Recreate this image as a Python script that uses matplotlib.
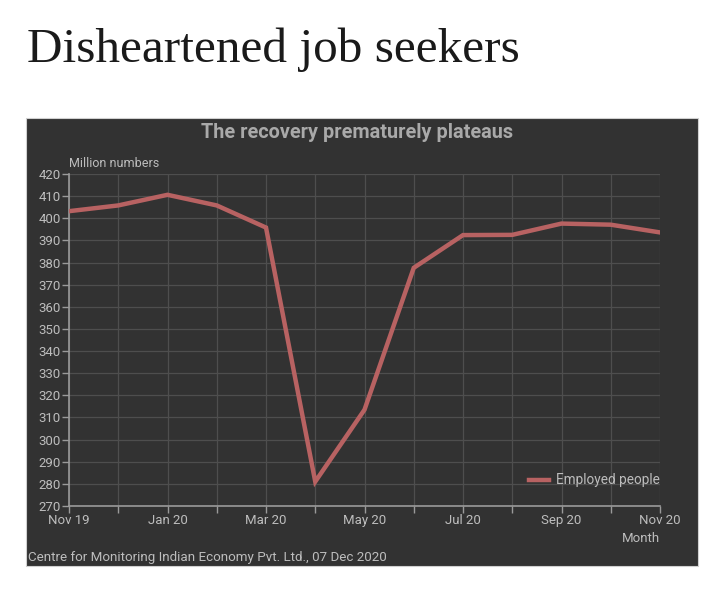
import matplotlib.pyplot as plt
from matplotlib.patches import Rectangle

# Data (million employed people, monthly)
months = ["Nov 19", "Dec 19", "Jan 20", "Feb 20", "Mar 20", "Apr 20", "May 20",
          "Jun 20", "Jul 20", "Aug 20", "Sep 20", "Oct 20", "Nov 20"]
employed = [403.2, 405.8, 410.6, 405.8, 395.8, 281.0, 313.5,
            377.6, 392.4, 392.5, 397.6, 397.1, 393.6]
tick_labels = ["Nov 19", "", "Jan 20", "", "Mar 20", "", "May 20",
               "", "Jul 20", "", "Sep 20", "", "Nov 20"]
y_ticks = list(range(270, 421, 10))

W, H = 720, 596
BG = "#323232"
TXT = "#bdbdbd"
GRID = "#4e4e4e"
LINE = "#b86262"

plt.rcParams["font.family"] = ["Roboto", "DejaVu Sans"]

fig = plt.figure(figsize=(W / 100, H / 100), dpi=100)
fig.patch.set_facecolor("white")

# dark panel behind the chart
fig.add_artist(Rectangle((26 / W, 1 - 566 / H), 672 / W, 448 / H,
                         transform=fig.transFigure, facecolor=BG,
                         edgecolor="#d0d0d0", linewidth=0.8, zorder=0))

fig.text(27 / W, 1 - 50 / H, "Disheartened job seekers", family="Liberation Serif",
         fontsize=35.5, color="#1a1a1a", va="center", ha="left")

ax = fig.add_axes([69 / W, 1 - 506 / H, 591 / W, 332 / H])
ax.set_facecolor(BG)
x = range(len(months))
ax.plot(x, employed, color=LINE, linewidth=3.2, solid_joinstyle="miter",
        label="Employed people", zorder=3)

ax.set_xlim(0, len(months) - 1)
ax.set_ylim(270, 420)
ax.set_xticks(list(x))
ax.set_xticklabels(tick_labels)
ax.set_yticks(y_ticks)
ax.grid(True, color=GRID, linewidth=0.9)
ax.tick_params(colors=TXT, labelsize=9.5, length=5, width=1, direction="out",
               pad=1)
ax.tick_params(axis="x", colors="#9a9a9a", labelcolor=TXT)
ax.tick_params(axis="y", colors="#9a9a9a", labelcolor=TXT)
for s in ["top", "right"]:
    ax.spines[s].set_visible(False)
for s in ["left", "bottom"]:
    ax.spines[s].set_color("#9a9a9a")
    ax.spines[s].set_linewidth(1.2)

leg = ax.legend(loc="center right", bbox_to_anchor=(1.0, 0.077), frameon=False,
                fontsize=9.8, handlelength=1.5, handletextpad=0.5,
                borderaxespad=0, borderpad=0)
for t in leg.get_texts():
    t.set_color(TXT)

fig.text(357 / W, 1 - 132 / H, "The recovery prematurely plateaus", ha="center",
         va="center", fontsize=14.3, fontweight="bold", color="#a9a9a9")
fig.text(69 / W, 1 - 164 / H, "Million numbers", ha="left", va="center",
         fontsize=9, color=TXT)
fig.text(660 / W, 1 - 539 / H, "Month", ha="right", va="center",
         fontsize=9.5, color=TXT)
fig.text(28 / W, 1 - 557 / H,
         "Centre for Monitoring Indian Economy Pvt. Ltd., 07 Dec 2020",
         ha="left", va="center", fontsize=9.6, color=TXT)

fig.savefig("out.png", dpi=100, facecolor="white")
